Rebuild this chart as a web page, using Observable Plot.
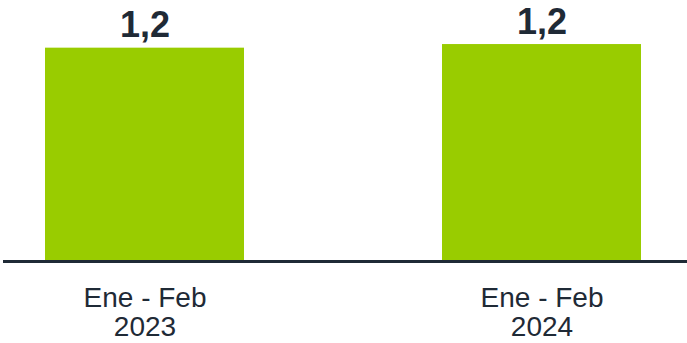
<!DOCTYPE html>
<html>
<head>
<meta charset="utf-8">
<script src="https://cdn.jsdelivr.net/npm/d3@7"></script>
<script src="https://cdn.jsdelivr.net/npm/@observablehq/plot@0.6"></script>
<style>
  html, body { margin: 0; padding: 0; background: #ffffff; }
</style>
</head>
<body>
<div id="chart"></div>
<script>
const years = ["2023", "2024"];
const periodLabel = "Ene - Feb";
const values = [1.18, 1.20];
const valueLabels = ["1,2", "1,2"];

const data = years.map((y, i) => ({year: y, value: values[i], label: valueLabels[i]}));

const ink = "#1f2a36";
const green = "#99cc00";

const chart = Plot.plot({
  width: 687,
  height: 343,
  marginTop: 20,
  marginBottom: 82,
  marginLeft: 3,
  marginRight: 0,
  style: {fontFamily: "'Liberation Sans', Arial, sans-serif", color: ink, background: "#ffffff"},
  x: {domain: years, paddingInner: 0.5, paddingOuter: 0.11, align: 0.47, label: null},
  y: {domain: [0, 1.333], axis: null},
  marks: [
    Plot.barY(data, {x: "year", y: "value", fill: green}),
    Plot.ruleY([0], {stroke: ink, strokeWidth: 3}),
    Plot.text(data, {
      x: "year", y: "value", text: "label",
      lineAnchor: "bottom", dy: -11,
      fontSize: 36, fontWeight: "bold", fill: ink
    }),
    Plot.axisX({
      tickSize: 0, tickPadding: 25, fontSize: 28, lineHeight: 1.04,
      tickFormat: (d) => `${periodLabel}\n${d}`, label: null, fill: ink
    })
  ]
});
document.getElementById("chart").appendChild(chart);
</script>
</body>
</html>
